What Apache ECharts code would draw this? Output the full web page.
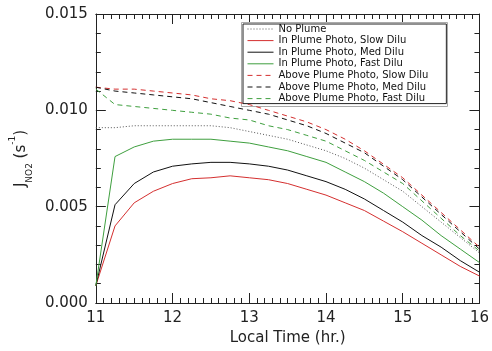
<!DOCTYPE html>
<html>
<head>
<meta charset="utf-8">
<script src="https://cdn.jsdelivr.net/npm/echarts@6/dist/echarts.min.js"></script>
<style>html,body{margin:0;padding:0;background:#fff;}#c{width:492px;height:351px;}</style>
</head>
<body>
<div id="c"></div>
<script>
var times = [11, 11.25, 11.5, 11.75, 12, 12.25, 12.5, 12.75, 13, 13.25, 13.5, 13.75, 14, 14.25, 14.5, 14.75, 15, 15.25, 15.5, 15.75, 16];
var noPlume      = [0.0091, 0.0091, 0.0092, 0.0092, 0.0092, 0.0092, 0.0092, 0.0091, 0.0089, 0.0087, 0.0085, 0.0082, 0.0079, 0.0075, 0.0070, 0.0064, 0.0058, 0.0050, 0.0042, 0.0034, 0.0026];
var inSlow       = [0.0009, 0.0040, 0.0052, 0.0058, 0.0062, 0.00645, 0.0065, 0.0066, 0.0065, 0.0064, 0.0062, 0.0059, 0.0056, 0.0052, 0.0048, 0.00425, 0.0037, 0.0031, 0.0025, 0.0019, 0.0014];
var inMed        = [0.0009, 0.0051, 0.0062, 0.0068, 0.0071, 0.00722, 0.0073, 0.0073, 0.00722, 0.0071, 0.0069, 0.0066, 0.0063, 0.0059, 0.0054, 0.0048, 0.0042, 0.0035, 0.0029, 0.0022, 0.0016];
var inFast       = [0.0009, 0.0076, 0.0081, 0.0084, 0.0085, 0.0085, 0.0085, 0.0084, 0.0083, 0.0081, 0.0079, 0.0076, 0.0073, 0.0068, 0.0063, 0.0057, 0.0050, 0.0043, 0.0035, 0.0028, 0.0021];
var aboveSlow    = [0.0112, 0.0111, 0.0111, 0.0110, 0.0109, 0.0108, 0.0106, 0.0105, 0.0103, 0.0100, 0.0097, 0.0094, 0.0090, 0.0085, 0.0079, 0.0072, 0.0065, 0.0056, 0.0047, 0.0038, 0.0029];
var aboveMed     = [0.0112, 0.0110, 0.0109, 0.0108, 0.0107, 0.0106, 0.0104, 0.0102, 0.0100, 0.0098, 0.0095, 0.0092, 0.0088, 0.0083, 0.0078, 0.0071, 0.0064, 0.0055, 0.0046, 0.0037, 0.0028];
var aboveFast    = [0.0111, 0.0103, 0.0102, 0.0101, 0.0100, 0.0099, 0.0098, 0.0096, 0.0095, 0.0092, 0.0090, 0.0087, 0.0084, 0.0079, 0.0074, 0.0068, 0.0062, 0.0053, 0.0044, 0.0035, 0.0027];
var seriesNames = ['No Plume', 'In Plume Photo, Slow Dilu', 'In Plume Photo, Med Dilu', 'In Plume Photo, Fast Dilu', 'Above Plume Photo, Slow Dilu', 'Above Plume Photo, Med Dilu', 'Above Plume Photo, Fast Dilu'];
var seriesValues = [noPlume, inSlow, inMed, inFast, aboveSlow, aboveMed, aboveFast];
var xTicks = [11, 12, 13, 14, 15, 16];
var yTicks = [0, 0.005, 0.010, 0.015];

var RED = '#d42f2f', GREEN = '#3f9f3f', BLACK = '#111111', GREY = '#555555';
var styles = [
  {color: GREY, type: [1, 2]},
  {color: RED, type: 'solid'},
  {color: BLACK, type: 'solid'},
  {color: GREEN, type: 'solid'},
  {color: RED, type: [5, 4]},
  {color: BLACK, type: [5, 4]},
  {color: GREEN, type: [5, 4]}
];

var FONT = 'DejaVu Sans';

function zip(vals) { return times.map(function (t, i) { return [t, vals[i]]; }); }

var series = seriesNames.map(function (n, i) {
  return {
    name: n, type: 'line', symbol: 'none', data: zip(seriesValues[i]),
    lineStyle: {color: styles[i].color, type: styles[i].type, width: 1},
    itemStyle: {color: styles[i].color}
  };
});

function xa(pos, showLabels) {
  return {
    type: 'value', position: pos, min: xTicks[0], max: xTicks[xTicks.length - 1], interval: 1,
    name: showLabels ? 'Local Time (hr.)' : null, nameLocation: 'middle', nameGap: 28,
    nameTextStyle: {fontFamily: FONT, fontSize: 15, color: '#222'},
    axisTick: {show: true, inside: true, length: 10, lineStyle: {color: '#222', width: 1}},
    minorTick: {show: true, splitNumber: 10, length: 5},
    splitLine: {show: false},
    axisLine: {show: true, onZero: false, lineStyle: {color: '#222'}},
    axisLabel: {show: showLabels, margin: 8, fontFamily: FONT, fontSize: 15, color: '#222'}
  };
}
function ya(pos, showLabels) {
  return {
    type: 'value', position: pos, min: yTicks[0], max: yTicks[yTicks.length - 1], interval: 0.005,
    name: showLabels ? '{a|J}{sub|NO2}{a| (s}{sup|-1}{a|)}' : null, nameLocation: 'middle', nameGap: 60, nameRotate: 90,
    nameTextStyle: {
      fontFamily: FONT, color: '#222',
      rich: {
        a: {fontFamily: FONT, fontSize: 15, lineHeight: 26, verticalAlign: 'middle', color: '#222'},
        sub: {fontFamily: FONT, fontSize: 9, lineHeight: 12, verticalAlign: 'bottom', color: '#222'},
        sup: {fontFamily: FONT, fontSize: 9, lineHeight: 12, verticalAlign: 'top', color: '#222'}
      }
    },
    axisTick: {show: true, inside: true, length: 10, lineStyle: {color: '#222', width: 1}},
    minorTick: {show: true, splitNumber: 5, length: 5},
    splitLine: {show: false},
    axisLine: {show: true, onZero: false, lineStyle: {color: '#222'}},
    axisLabel: {show: showLabels, margin: 8, fontFamily: FONT, fontSize: 15, color: '#222',
      formatter: function (v) { return v.toFixed(3); }}
  };
}

var chart = echarts.init(document.getElementById('c'));
chart.setOption({
  animation: false,
  grid: {left: 88, right: 8, top: 14, bottom: 45},
  xAxis: [xa('bottom', true), xa('top', false)],
  yAxis: [ya('left', true), ya('right', false)],
  graphic: [{
    type: 'rect', z: 3, left: 241, top: 22, shape: {width: 206, height: 84},
    style: {fill: '#fff', stroke: '#aaa', lineWidth: 1}
  }],
  legend: {
    orient: 'vertical', left: 243, top: 24, z: 4,
    data: seriesNames,
    backgroundColor: '#fff', borderColor: '#222', borderWidth: 1,
    padding: [0, 18, 0, 4],
    itemWidth: 26, itemHeight: 10, itemGap: 1.6,
    itemStyle: {opacity: 0},
    lineStyle: {width: 1},
    textStyle: {fontFamily: FONT, fontSize: 10, lineHeight: 10, color: '#111'},
    selectedMode: false
  },
  series: series
});
</script>
</body>
</html>
